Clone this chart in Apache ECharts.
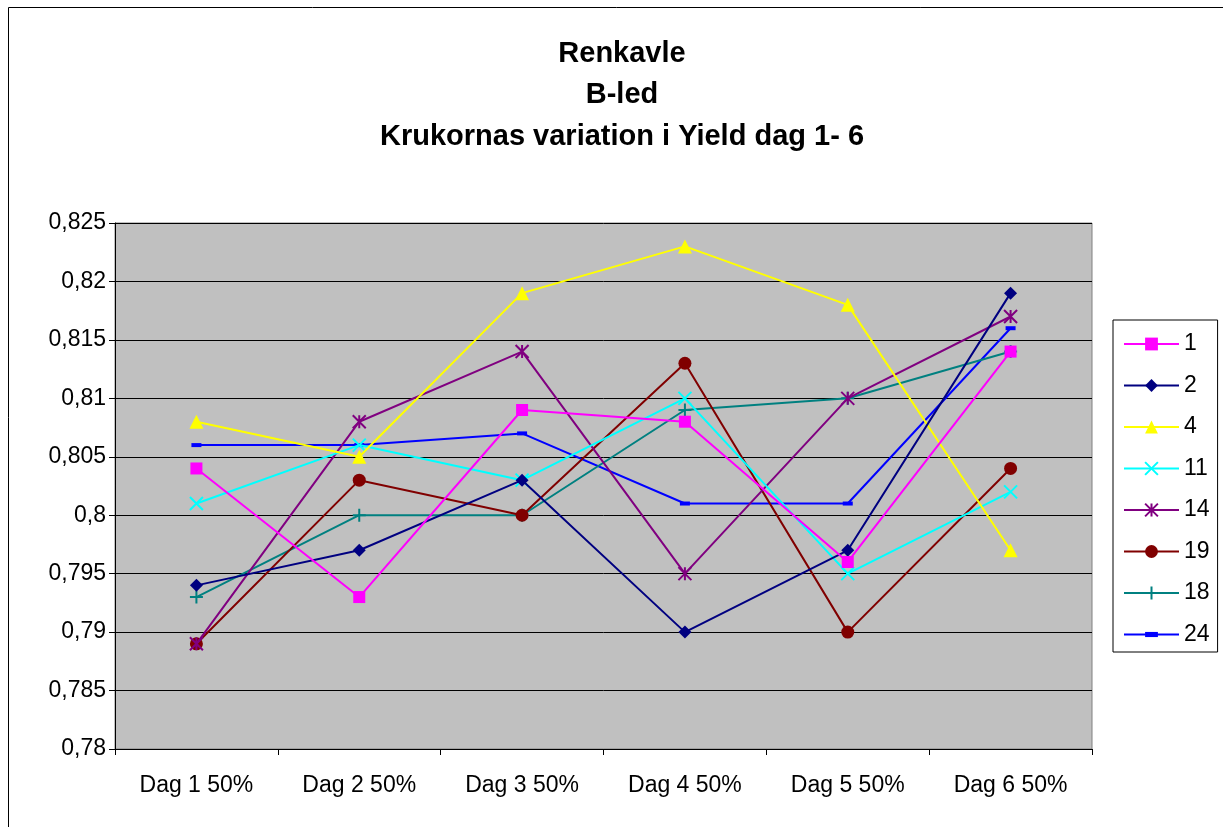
<!DOCTYPE html>
<html><head><meta charset="utf-8">
<script src="https://cdn.jsdelivr.net/npm/echarts@6/dist/echarts.min.js"></script>
<style>html,body{margin:0;padding:0;background:#fff}#c{width:1223px;height:827px}</style>
</head><body><div id="c"></div>
<script>
const categories = ['Dag 1 50%','Dag 2 50%','Dag 3 50%','Dag 4 50%','Dag 5 50%','Dag 6 50%'];
const s1  = [0.804, 0.793, 0.809, 0.808, 0.796, 0.814];
const s2  = [0.794, 0.797, 0.803, 0.790, 0.797, 0.819];
const s4  = [0.808, 0.805, 0.819, 0.823, 0.818, 0.797];
const s11 = [0.801, 0.806, 0.803, 0.810, 0.795, 0.802];
const s14 = [0.789, 0.808, 0.814, 0.795, 0.810, 0.817];
const s19 = [0.789, 0.803, 0.800, 0.813, 0.790, 0.804];
const s18 = [0.793, 0.800, 0.800, 0.809, 0.810, 0.814];
const s24 = [0.806, 0.806, 0.807, 0.801, 0.801, 0.816];
const seriesNames = ['1','2','4','11','14','19','18','24'];
const seriesData = [s1, s2, s4, s11, s14, s19, s18, s24];
const colors = ['#FF00FF','#000080','#FFFF00','#00FFFF','#800080','#800000','#008080','#0000FF'];
const symbols = ['rect','diamond','triangle',
  'path://M0,0L10,10M10,0L0,10',
  'path://M0,0L10,10M10,0L0,10M5,0L5,10',
  'circle',
  'path://M5,0L5,10M0,5L10,5',
  'path://M0,0M10,10M0,3L10,3L10,7L0,7Z'];
const sizes = [12, 13, 14, 13, 13, 13, 13, 10];
const stroked = [false,false,false,true,true,false,true,false];

const font = 'Liberation Sans, Arial, sans-serif';
const chart = echarts.init(document.getElementById('c'), null, {renderer:'canvas'});
chart.setOption({
  animation: false,
  backgroundColor: '#fff',
  title: {
    text: 'Renkavle\nB-led\nKrukornas variation i Yield dag 1- 6',
    left: 617, textAlign: 'center', top: 28,
    textStyle: {fontFamily: font, fontSize: 29, fontWeight: 'bold', color: '#000', lineHeight: 41.5}
  },
  graphic: [{type:'rect', shape:{x:8.5, y:7.5, width:1240, height:840}, style:{fill:'none', stroke:'#000', lineWidth:1}, silent:true}],
  legend: {
    orient: 'vertical', left: 1113, top: 320,
    padding: [12.5, 8, 6, 10],
    itemWidth: 55, itemHeight: 16, itemGap: 18.5,
    borderColor: '#000', borderWidth: 1, backgroundColor: '#fff',
    textStyle: {fontFamily: font, fontSize: 23, color: '#000'},
    data: seriesNames
  },
  grid: {left: 115, right: 131, top: 223, bottom: 78, show: true, backgroundColor: '#C0C0C0', borderColor: '#808080', borderWidth: 1},
  xAxis: {
    type: 'category', data: categories, boundaryGap: true,
    axisLine: {lineStyle: {color: '#000', width: 1}},
    axisTick: {show: true, alignWithLabel: false, length: 6, lineStyle: {color: '#000'}},
    axisLabel: {fontFamily: font, fontSize: 23, color: '#000', margin: 25}
  },
  yAxis: {
    type: 'value', min: 0.78, max: 0.825, interval: 0.005,
    axisLine: {show: true, lineStyle: {color: '#000', width: 1}},
    axisTick: {show: true, length: 6, lineStyle: {color: '#000'}},
    splitLine: {lineStyle: {color: '#000', width: 1}},
    axisLabel: {fontFamily: font, fontSize: 23, color: '#000', margin: 9,
      formatter: v => String(+v.toFixed(3)).replace('.', ',')}
  },
  series: seriesNames.map((n, i) => ({
    name: n, type: 'line', data: seriesData[i],
    symbol: symbols[i], symbolSize: sizes[i], showAllSymbol: true,
    lineStyle: {color: colors[i], width: 2},
    itemStyle: stroked[i]
      ? {color: colors[i], borderColor: colors[i], borderWidth: 2}
      : {color: colors[i], borderColor: colors[i], borderWidth: 0},
    z: 10 - i
  }))
});
</script></body></html>
